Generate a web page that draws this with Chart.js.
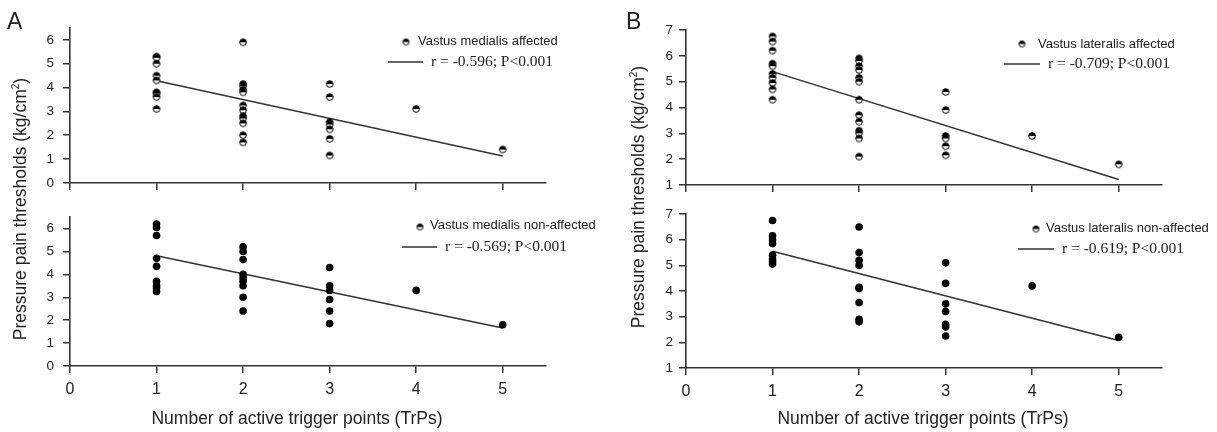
<!DOCTYPE html>
<html>
<head>
<meta charset="utf-8">
<script src="https://cdn.jsdelivr.net/npm/chart.js@4.4.0/dist/chart.umd.min.js"></script>
<style>
  body { margin: 0; background: #fff; }
  #wrap { position: relative; width: 1217px; height: 432px; overflow: hidden; font-family: "Liberation Sans", Arial, sans-serif; color: #222; }
  canvas { position: absolute; }
  .lbl { position: absolute; white-space: nowrap; line-height: 1; }
  .panel { font-size: 23px; }
  .xtitle { font-size: 17.5px; transform: translateX(-50%); }
  .ytitle { font-size: 17.5px; transform: translate(-50%, -50%) rotate(-90deg); }
  .ytitle sup { font-size: 10px; vertical-align: 7px; line-height: 0; }
</style>
</head>
<body>
<div id="wrap">
  <canvas id="chartA1" width="608" height="200" style="left:0;top:0"></canvas>
  <canvas id="chartA2" width="608" height="232" style="left:0;top:200px"></canvas>
  <canvas id="chartB1" width="609" height="200" style="left:608px;top:0"></canvas>
  <canvas id="chartB2" width="609" height="232" style="left:608px;top:200px"></canvas>

  <div class="lbl panel" style="left:7px;top:10px">A</div>
  <div class="lbl panel" style="left:626px;top:10px">B</div>
  <div class="lbl ytitle" style="left:21px;top:209px">Pressure pain thresholds (kg/cm<sup>2</sup>)</div>
  <div class="lbl ytitle" style="left:639px;top:197px">Pressure pain thresholds (kg/cm<sup>2</sup>)</div>
  <div class="lbl xtitle" style="left:297px;top:410px">Number of active trigger points (TrPs)</div>
  <div class="lbl xtitle" style="left:923px;top:410px">Number of active trigger points (TrPs)</div>
</div>
<script>
// Number of active TrPs (x positions of the point columns)
const trpLevels = [1, 2, 3, 4, 5];
const xTicks = [0, 1, 2, 3, 4, 5];

// PPT values (kg/cm2), one list per TrP level
const medialisAffected = [
  [5.3, 5.25, 5.0, 4.5, 4.3, 3.8, 3.75, 3.6, 3.1],
  [5.9, 4.15, 4.05, 3.9, 3.8, 3.25, 3.05, 2.8, 2.7, 2.5, 2.0, 1.7],
  [4.15, 3.6, 2.55, 2.45, 2.25, 1.85, 1.15],
  [3.1],
  [1.4]
];
const medialisNonAffected = [
  [6.2, 6.05, 5.7, 4.7, 4.35, 3.7, 3.5, 3.4, 3.25],
  [5.2, 5.0, 4.65, 4.0, 3.85, 3.7, 3.5, 3.0, 2.4],
  [4.3, 3.5, 3.3, 2.9, 2.4, 1.85],
  [3.3],
  [1.8]
];
const lateralisAffected = [
  [6.75, 6.55, 6.2, 5.7, 5.6, 5.3, 5.15, 4.95, 4.7, 4.3],
  [5.9, 5.8, 5.6, 5.45, 5.15, 5.0, 4.3, 3.7, 3.45, 3.1, 3.0, 2.8, 2.1],
  [4.6, 3.9, 2.9, 2.8, 2.5, 2.15],
  [2.9],
  [1.8]
];
const lateralisNonAffected = [
  [6.75, 6.15, 6.0, 5.85, 5.4, 5.25, 5.15, 5.05],
  [6.5, 5.5, 5.2, 5.0, 4.15, 4.1, 3.55, 2.9, 2.8],
  [5.1, 4.3, 3.5, 3.2, 2.7, 2.6, 2.25],
  [4.2],
  [2.2]
];

// regression line, fitted value at the ends of fitRange
const fitRange = [1, 5];
const medialisAffectedFit = [4.29, 1.13];
const medialisNonAffectedFit = [4.81, 1.66];
const lateralisAffectedFit = [5.39, 1.21];
const lateralisNonAffectedFit = [5.55, 2.07];

const axisColor = '#333';
const textColor = '#222';

// half filled marker (top black, bottom white)
function makeHalfMarker(r) {
  const c = document.createElement('canvas');
  const size = Math.ceil(r * 2 + 3);
  c.width = size; c.height = size;
  const g = c.getContext('2d');
  const m = size / 2;
  g.fillStyle = '#fff';
  g.beginPath(); g.arc(m, m, r, 0, Math.PI * 2); g.fill();
  g.fillStyle = '#000';
  g.beginPath(); g.arc(m, m, r, Math.PI, 0); g.closePath(); g.fill();
  g.strokeStyle = '#000'; g.lineWidth = 1;
  g.beginPath(); g.arc(m, m, r, 0, Math.PI * 2); g.stroke();
  return c;
}
const halfMarker = makeHalfMarker(3.3);
const legendMarker = makeHalfMarker(3);

function toPoints(values) {
  return trpLevels.flatMap((lv, i) => values[i].map(v => ({ x: lv, y: v })));
}

// draws the little legend block in the upper right of each panel
const panelLegend = {
  id: 'panelLegend',
  afterDraw(chart, args, o) {
    const ctx = chart.ctx;
    ctx.save();
    ctx.drawImage(legendMarker, o.marker[0] - legendMarker.width / 2, o.marker[1] - legendMarker.height / 2);
    ctx.fillStyle = textColor;
    ctx.textBaseline = 'middle';
    ctx.font = '13px "Liberation Sans", Arial, sans-serif';
    ctx.fillText(o.label, o.labelPos[0], o.labelPos[1]);
    ctx.strokeStyle = axisColor;
    ctx.lineWidth = 1.5;
    ctx.beginPath();
    ctx.moveTo(o.line[0], o.line[2]);
    ctx.lineTo(o.line[1], o.line[2]);
    ctx.stroke();
    ctx.font = '15.5px "Liberation Serif", "Times New Roman", serif';
    ctx.fillText(o.stat, o.statPos[0], o.statPos[1]);
    ctx.restore();
  }
};

function makeChart(id, values, fit, cfg) {
  const ctx = document.getElementById(id).getContext('2d');
  const points = {
    data: toPoints(values),
    pointStyle: cfg.half ? halfMarker : 'circle',
    pointRadius: cfg.half ? 3.5 : 3.8,
    pointBackgroundColor: '#000',
    pointBorderWidth: 0
  };
  const line = {
    data: fitRange.map((x, i) => ({ x: x, y: fit[i] })),
    showLine: true,
    borderColor: axisColor,
    borderWidth: 1.5,
    pointRadius: 0
  };
  return new Chart(ctx, {
    type: 'scatter',
    data: { datasets: [points, line] },
    options: {
      responsive: false,
      animation: false,
      events: [],
      layout: { padding: cfg.padding },
      plugins: {
        legend: { display: false },
        tooltip: { enabled: false },
        panelLegend: cfg.legend
      },
      scales: {
        x: {
          type: 'linear',
          min: 0,
          max: 5.5,
          afterBuildTicks: s => { s.ticks = xTicks.map(v => ({ value: v })); },
          afterFit: s => { s.height = cfg.xHeight; },
          ticks: {
            display: cfg.xLabels,
            color: textColor,
            padding: 7,
            font: { family: '"Liberation Sans", Arial, sans-serif', size: 16 }
          },
          grid: { drawOnChartArea: false, tickLength: 7, color: axisColor, lineWidth: 1.5 },
          border: { color: axisColor, width: 1.6 }
        },
        y: {
          min: cfg.yMin,
          max: cfg.yMax,
          afterFit: s => { s.width = 30; },
          ticks: {
            stepSize: 1,
            includeBounds: false,
            color: textColor,
            padding: cfg.yPad,
            font: { family: '"Liberation Sans", Arial, sans-serif', size: 13.5 }
          },
          grid: { drawOnChartArea: false, tickLength: 7, color: axisColor, lineWidth: 1.5 },
          border: { color: axisColor, width: 1.6 }
        }
      }
    },
    plugins: [panelLegend]
  });
}

makeChart('chartA1', medialisAffected, medialisAffectedFit, {
  half: true,
  padding: { left: 40, right: 62, top: 28, bottom: 0 },
  xHeight: 17, xLabels: false, yMin: 0, yMax: 6.5, yPad: 9,
  legend: { marker: [406, 42], label: 'Vastus medialis affected', labelPos: [418, 41],
            line: [388, 423, 62], stat: 'r = -0.596; P<0.001', statPos: [431, 62] }
});
makeChart('chartA2', medialisNonAffected, medialisNonAffectedFit, {
  half: false,
  padding: { left: 40, right: 62, top: 11, bottom: 26 },
  xHeight: 40, xLabels: true, yMin: 0, yMax: 6.5, yPad: 9,
  legend: { marker: [420, 27], label: 'Vastus medialis non-affected', labelPos: [430, 25],
            line: [402, 437, 47], stat: 'r = -0.569; P<0.001', statPos: [445, 47] }
});
makeChart('chartB1', lateralisAffected, lateralisAffectedFit, {
  half: true,
  padding: { left: 48, right: 55, top: 30, bottom: 0 },
  xHeight: 15, xLabels: false, yMin: 1, yMax: 7, yPad: 6,
  legend: { marker: [414, 44], label: 'Vastus lateralis affected', labelPos: [430, 44],
            line: [396, 432, 64], stat: 'r = -0.709; P<0.001', statPos: [440, 64] }
});
makeChart('chartB2', lateralisNonAffected, lateralisNonAffectedFit, {
  half: false,
  padding: { left: 48, right: 55, top: 13, bottom: 24 },
  xHeight: 40, xLabels: true, yMin: 1, yMax: 7, yPad: 6,
  legend: { marker: [428, 29], label: 'Vastus lateralis non-affected', labelPos: [438, 28],
            line: [410, 446, 49], stat: 'r = -0.619; P<0.001', statPos: [454, 49] }
});
</script>
</body>
</html>
